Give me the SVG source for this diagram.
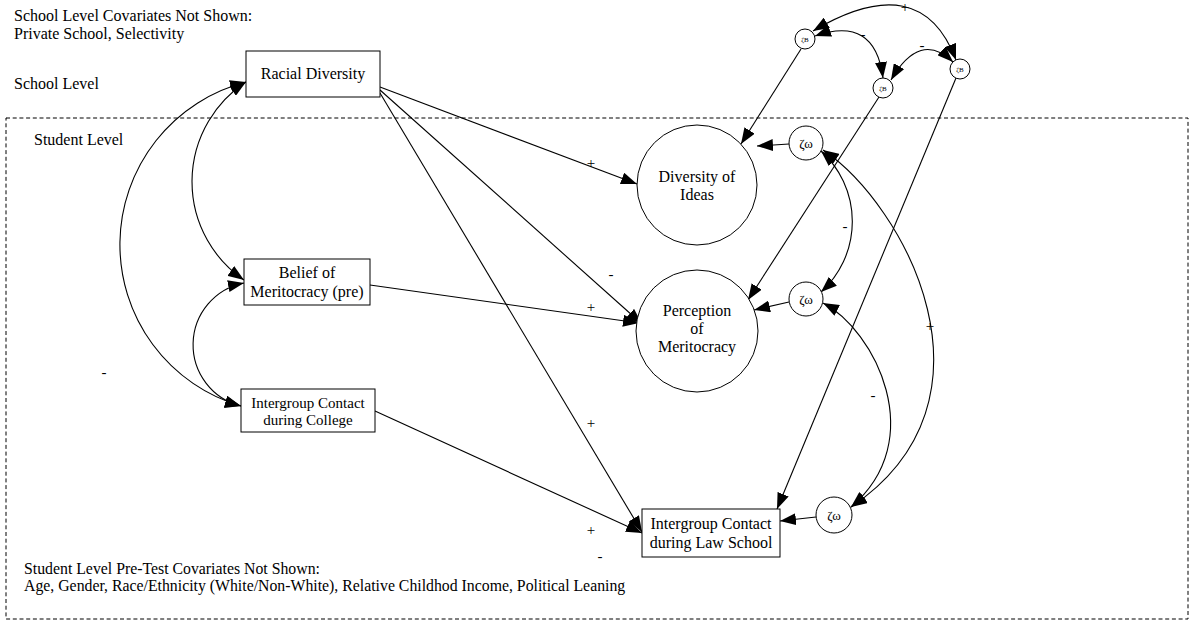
<svg xmlns="http://www.w3.org/2000/svg" width="1194" height="624" viewBox="0 0 1194 624">
  <style>
    text { font-family: "Liberation Serif", "Times New Roman", serif; fill: #000; }
    .t16 { font-size: 16px; }
    .t15 { font-size: 15px; }
    .foot { font-size: 15.8px; }
    .lab { font-size: 15px; text-anchor: middle; }
    .mid { text-anchor: middle; }
    .box { fill: #fff; stroke: #000; stroke-width: 1; }
    .edge { fill: none; stroke: #000; stroke-width: 1.1; }
    .one { marker-end: url(#ah); }
    .two { marker-start: url(#ah); marker-end: url(#ah); }
    .frame { fill: none; stroke: #000; stroke-width: 1; stroke-dasharray: 4 2.7; }
  </style>
  <defs>
    <marker id="ah" viewBox="0 0 16 12" refX="16" refY="6" markerWidth="16" markerHeight="12" markerUnits="userSpaceOnUse" orient="auto-start-reverse">
      <path d="M0,0 L16,6 L0,12 z" fill="#000"/>
    </marker>
  </defs>
  <rect width="1194" height="624" fill="#fff"/>

  <!-- level frame and free text -->
  <rect class="frame" x="6" y="118" width="1182" height="501"/>
  <text class="t16" x="14" y="21">School Level Covariates Not Shown:</text>
  <text class="t16" x="14" y="39">Private School, Selectivity</text>
  <text class="t16" x="14" y="89">School Level</text>
  <text class="t16" x="34" y="145">Student Level</text>
  <text class="foot" x="24" y="574">Student Level Pre-Test Covariates Not Shown:</text>
  <text class="foot" x="24" y="591">Age, Gender, Race/Ethnicity (White/Non-White), Relative Childhod Income, Political Leaning</text>

  <!-- connectors -->
  <g id="connectors">
    <!-- structural paths -->
    <path class="edge one" d="M380,87 L637,184"/>
    <path class="edge one" d="M380,90 L642,324"/>
    <path class="edge one" d="M370,285 L639,323"/>
    <path class="edge one" d="M380,93 L642,532"/>
    <path class="edge one" d="M375,411 L642,533"/>
    <!-- covariances between exogenous variables -->
    <path class="edge two" d="M246,82 A168,168 0 0 0 241,406"/>
    <path class="edge two" d="M246,82 A119,119 0 0 0 244,280"/>
    <path class="edge two" d="M244,283 A63,63 0 0 0 241,406"/>
    <!-- disturbance paths -->
    <path class="edge one" d="M789,144 L757,146"/>
    <path class="edge one" d="M789,302 L754,310"/>
    <path class="edge one" d="M816,517 L780,521"/>
    <!-- random intercept paths -->
    <path class="edge one" d="M801,49 L741,144"/>
    <path class="edge one" d="M879,97 L748,300"/>
    <path class="edge one" d="M956,78 L777,509"/>
    <!-- disturbance covariances -->
    <path class="edge two" d="M821,151 A95,95 0 0 1 821,292"/>
    <path class="edge two" d="M823,150 C905,205 1010,400 851,507"/>
    <path class="edge two" d="M823,303 C875,330 930,440 851,507"/>
    <!-- random intercept covariances -->
    <path class="edge two" d="M813,31 Q921,-33 956,60"/>
    <path class="edge two" d="M815,36 Q875,15 883,78"/>
    <path class="edge two" d="M891,80 Q920,30 953,62"/>
    <!-- coefficient signs -->
    <text class="lab" x="591" y="168">+</text>
    <text class="lab" x="611" y="279">-</text>
    <text class="lab" x="591" y="312">+</text>
    <text class="lab" x="591" y="428">+</text>
    <text class="lab" x="591" y="535">+</text>
    <text class="lab" x="600" y="561">-</text>
    <text class="lab" x="104" y="377">-</text>
    <text class="lab" x="845" y="231">-</text>
    <text class="lab" x="930" y="331">+</text>
    <text class="lab" x="873" y="400">-</text>
    <text class="lab" x="905" y="12">+</text>
    <text class="lab" x="863" y="39">-</text>
    <text class="lab" x="922" y="50">-</text>
  </g>

  <!-- observed variables -->
  <g id="racial-diversity">
    <rect class="box" x="246" y="51" width="134" height="46"/>
    <text class="t16 mid" x="313" y="79">Racial Diversity</text>
  </g>
  <g id="belief-meritocracy">
    <rect class="box" x="244" y="259" width="126" height="46"/>
    <text class="t16 mid" x="307" y="278">Belief of</text>
    <text class="t16 mid" x="307" y="297">Meritocracy (pre)</text>
  </g>
  <g id="contact-college">
    <rect class="box" x="241" y="389" width="134" height="43"/>
    <text class="t15 mid" x="308" y="408">Intergroup Contact</text>
    <text class="t15 mid" x="308" y="425">during College</text>
  </g>
  <g id="contact-law">
    <rect class="box" x="642" y="509" width="138" height="48"/>
    <text class="t16 mid" x="711" y="529">Intergroup Contact</text>
    <text class="t16 mid" x="711" y="548">during Law School</text>
  </g>

  <!-- latent outcomes -->
  <g id="diversity-ideas">
    <circle class="box" cx="697" cy="185" r="60"/>
    <text class="t16 mid" x="697" y="182">Diversity of</text>
    <text class="t16 mid" x="697" y="200">Ideas</text>
  </g>
  <g id="perception-meritocracy">
    <circle class="box" cx="697" cy="331" r="61"/>
    <text class="t16 mid" x="697" y="316">Perception</text>
    <text class="t16 mid" x="697" y="334">of</text>
    <text class="t16 mid" x="697" y="352">Meritocracy</text>
  </g>

  <!-- student level disturbances -->
  <g id="zeta-w-diversity">
    <circle class="box" cx="806" cy="143" r="17"/>
    <text class="mid" x="806" y="148" font-size="13">ζω</text>
  </g>
  <g id="zeta-w-perception">
    <circle class="box" cx="806" cy="299" r="17"/>
    <text class="mid" x="806" y="304" font-size="13">ζω</text>
  </g>
  <g id="zeta-w-law">
    <circle class="box" cx="834" cy="515" r="18"/>
    <text class="mid" x="834" y="520" font-size="13">ζω</text>
  </g>

  <!-- school level random intercepts -->
  <g id="zeta-b-diversity">
    <circle class="box" cx="805" cy="39" r="10"/>
    <text class="mid" x="805" y="41.5" font-size="7">ζB</text>
  </g>
  <g id="zeta-b-perception">
    <circle class="box" cx="883" cy="88" r="10"/>
    <text class="mid" x="883" y="90.5" font-size="7">ζB</text>
  </g>
  <g id="zeta-b-law">
    <circle class="box" cx="960" cy="69" r="10"/>
    <text class="mid" x="960" y="71.5" font-size="7">ζB</text>
  </g>
</svg>
